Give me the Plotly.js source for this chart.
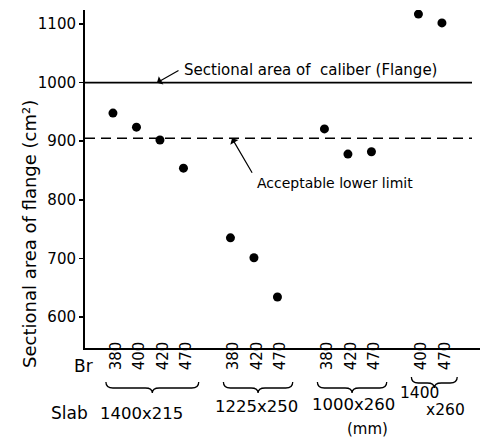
<!DOCTYPE html>
<html>
<head>
<meta charset="utf-8">
<script src="https://cdn.plot.ly/plotly-3.0.1.min.js"></script>
<style>html,body{margin:0;padding:0;background:#fff;}#chart{width:483px;height:441px;}</style>
</head>
<body>
<div id="chart"></div>
<script>
// ---- data ----
var slabSizes = ['1400x215', '1225x250', '1000x260', '1400x260'];
var brG1 = [380, 400, 420, 470];
var brG2 = [380, 420, 470];
var brG3 = [380, 420, 470];
var brG4 = [400, 470];
var areaG1 = [948, 924, 902, 854];
var areaG2 = [735, 701, 634];
var areaG3 = [921, 878, 882];
var areaG4 = [1117, 1102];
var caliberArea = 1000;   // sectional area of caliber (flange)
var lowerLimit = 905;     // acceptable lower limit
var yTicks = [600, 700, 800, 900, 1000, 1100];

// ---- build positions: one slot per Br, one empty slot between slab groups ----
var brGroups = [brG1, brG2, brG3, brG4];
var areaGroups = [areaG1, areaG2, areaG3, areaG4];
var xs = [], ys = [], tickText = [], groupSpans = [];
var slot = 0;
brGroups.forEach(function (g, gi) {
  var start = slot;
  g.forEach(function (br, i) {
    xs.push(slot); ys.push(areaGroups[gi][i]); tickText.push(String(br));
    slot++;
  });
  groupSpans.push([start, slot - 1]);
  slot++;
});

var W = 483, H = 441;
var M = {l: 85, r: 3, t: 10, b: 93};
var xRange = [-1.19, 15.62];
var yRange = [547, 1124];
var plotW = W - M.l - M.r, plotH = H - M.t - M.b;
function pxX(px) { return (px - M.l) / plotW; }
function pxY(py) { return (H - M.b - py) / plotH; }
function dataXtoPaper(x) { return (x - xRange[0]) / (xRange[1] - xRange[0]); }

var FONT = 'DejaVu Sans, sans-serif';

// braces under each slab group
var shapes = [];
groupSpans.forEach(function (s, gi) {
  var x0 = dataXtoPaper(s[0] - 0.3), x1 = dataXtoPaper(s[1] + 0.65);
  var xc = (x0 + x1) / 2, d = 7 / plotW;
  var lift = (gi === groupSpans.length - 1) ? 5 : 0;
  var yTop = pxY(382 - lift), yMid = pxY(388 - lift), yTip = pxY(393 - lift);
  var p = 'M ' + x0 + ',' + yTop +
    ' Q ' + x0 + ',' + yMid + ' ' + (x0 + d) + ',' + yMid +
    ' L ' + (xc - d) + ',' + yMid +
    ' Q ' + xc + ',' + yMid + ' ' + xc + ',' + yTip +
    ' Q ' + xc + ',' + yMid + ' ' + (xc + d) + ',' + yMid +
    ' L ' + (x1 - d) + ',' + yMid +
    ' Q ' + x1 + ',' + yMid + ' ' + x1 + ',' + yTop;
  shapes.push({type: 'path', xref: 'paper', yref: 'paper', path: p,
    line: {color: '#000', width: 1.3}});
});
// reference lines
shapes.push({type: 'line', xref: 'paper', yref: 'y', x0: 0, x1: pxX(472),
  y0: caliberArea, y1: caliberArea, line: {color: '#000', width: 1.6}});
shapes.push({type: 'line', xref: 'paper', yref: 'y', x0: 0, x1: pxX(472),
  y0: lowerLimit, y1: lowerLimit, line: {color: '#000', width: 1.5, dash: '10px,6px'}});

function txt(text, cx, cy, size, extra) {
  var a = {text: text, xref: 'paper', yref: 'paper', x: pxX(cx), y: pxY(cy),
    xanchor: 'center', yanchor: 'middle', showarrow: false,
    font: {family: FONT, size: size, color: '#000'}};
  if (extra) for (var k in extra) a[k] = extra[k];
  return a;
}

var annotations = [
  txt('Sectional area of flange (cm²)', 29, 234, 18, {textangle: -90}),
  txt('Br', 83, 366, 17),
  txt('Slab', 69, 413, 17),
  txt(slabSizes[0], 141, 413, 16.5),
  txt(slabSizes[1], 256, 406, 16.5),
  txt(slabSizes[2], 353, 404, 16.5),
  txt(slabSizes[3].split('x')[0], 419, 393, 15.5),
  txt('x' + slabSizes[3].split('x')[1], 445, 410, 15.5),
  txt('(mm)', 367, 429, 15),
  txt('Sectional area of  caliber (Flange)', 182, 70, 15, {xanchor: 'left'}),
  txt('Acceptable lower limit', 255, 183, 14, {xanchor: 'left'}),
  {text: '', xref: 'paper', yref: 'y', x: pxX(157), y: caliberArea,
   showarrow: true, ax: 23, ay: -13, arrowhead: 1, arrowsize: 1.3, arrowwidth: 1.2,
   arrowcolor: '#000', standoff: 0},
  {text: '', xref: 'paper', yref: 'y', x: pxX(232), y: lowerLimit,
   showarrow: true, ax: 21, ay: 36, arrowhead: 1, arrowsize: 1.3, arrowwidth: 1.2,
   arrowcolor: '#000', standoff: 0}
];

var trace = {
  x: xs, y: ys, type: 'scatter', mode: 'markers',
  marker: {color: '#000', size: 9, line: {width: 0}},
  hoverinfo: 'skip', showlegend: false
};

var layout = {
  width: W, height: H,
  margin: M,
  paper_bgcolor: '#fff', plot_bgcolor: '#fff',
  showlegend: false,
  font: {family: FONT, color: '#000'},
  xaxis: {
    range: xRange, showgrid: false, zeroline: false,
    showline: true, linecolor: '#000', linewidth: 1.6,
    tickmode: 'array', tickvals: xs, ticktext: tickText, tickangle: -90,
    ticks: '', ticklabelshift: 3, ticklabelstandoff: -14,
    tickfont: {family: FONT, size: 15, color: '#000'}
  },
  yaxis: {
    range: yRange, showgrid: false, zeroline: false,
    showline: true, linecolor: '#000', linewidth: 2,
    tickmode: 'array', tickvals: yTicks, ticktext: yTicks.map(String),
    ticks: 'outside', ticklen: 4, tickwidth: 1.5, tickcolor: '#000',
    tickfont: {family: FONT, size: 15, color: '#000'}
  },
  shapes: shapes,
  annotations: annotations
};

Plotly.newPlot('chart', [trace], layout, {displayModeBar: false, staticPlot: true});
</script>
</body>
</html>
